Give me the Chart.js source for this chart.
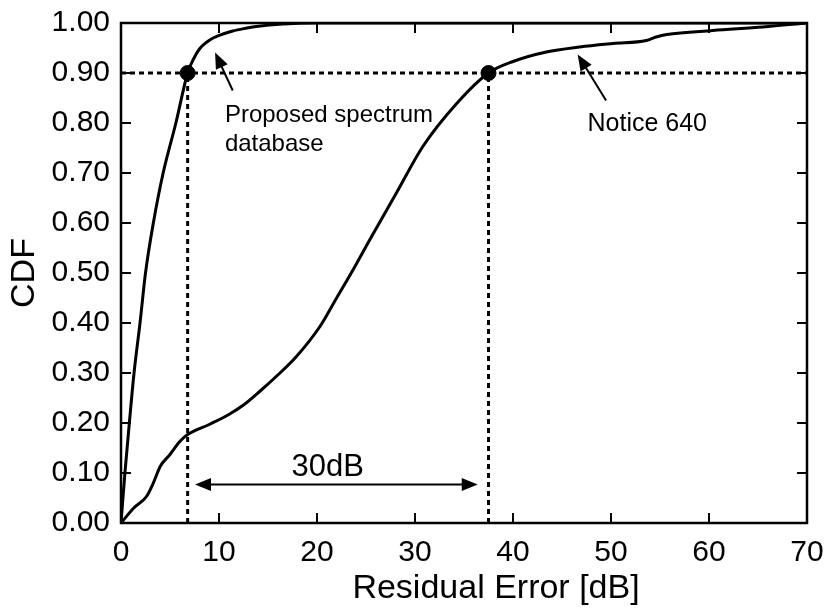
<!DOCTYPE html>
<html>
<head>
<meta charset="utf-8">
<script src="https://cdn.jsdelivr.net/npm/chart.js@4/dist/chart.umd.min.js"></script>
<style>
  html, body { margin: 0; padding: 0; background: #fff; }
  #wrap { width: 828px; height: 608px; }
</style>
</head>
<body>
<div id="wrap"><canvas id="cdf"></canvas></div>
<script>
// CDF of residual error
const proposedX = [0, 0.4, 0.85, 1.33, 1.94, 2.5, 3.3, 4.3, 5.6, 6.8, 7.4, 8.0, 8.7, 9.4, 10.4, 11.4, 12.6, 13.8, 16.5, 20, 70];
const proposedY = [0, 0.1, 0.2, 0.3, 0.4, 0.5, 0.6, 0.7, 0.8, 0.9, 0.928, 0.948, 0.961, 0.970, 0.978, 0.984, 0.989, 0.993, 0.998, 1, 1];

const noticeX = [0, 1.3, 2.6, 3.3, 4.0, 5.0, 6.0, 6.8, 9.0, 11.0, 12.5, 14.2, 16.0, 17.9, 20.3, 22.0, 23.7,
  25.4, 28.1, 30.8, 34.3, 37.5, 40.0, 43.4, 46.8, 50.2, 53.6, 54.6, 55.7, 60.4, 65.5, 70];
const noticeY = [0, 0.03, 0.053, 0.08, 0.113, 0.137, 0.163, 0.177, 0.197, 0.217, 0.236, 0.264, 0.296, 0.333, 0.393,
  0.45, 0.507, 0.567, 0.66, 0.753, 0.84, 0.9, 0.923, 0.942, 0.952, 0.959, 0.965, 0.972, 0.977, 0.985, 0.992, 1.0];

const xTicks = [0, 10, 20, 30, 40, 50, 60, 70];
const yTicks = [0, 0.1, 0.2, 0.3, 0.4, 0.5, 0.6, 0.7, 0.8, 0.9, 1.0];

// the two 90% points and the level line
const level = 0.9;
const markX = [6.8, 37.5];

// annotations, in data units
const labelProposed = ["Proposed spectrum", "database"];
const labelProposedAt = [10.6, 0.803, 0.745];
const arrowProposed = [11.4, 0.865, 9.6, 0.941];
const labelNotice = "Notice 640";
const labelNoticeAt = [47.6, 0.785];
const arrowNotice = [49.5, 0.845, 46.6, 0.937];
const gapLabel = "30dB";
const gapLabelAt = [21.1, 0.095];
const gapArrow = [7.55, 36.4, 0.077];
const xTitle = "Residual Error [dB]";

const FONT = '"Liberation Sans", Arial, Helvetica, sans-serif';

function toPoints(xs, ys) {
  return xs.map((x, i) => ({ x: x, y: ys[i] }));
}

function arrowHead(ctx, x0, y0, x1, y1) {
  const a = Math.atan2(y1 - y0, x1 - x0);
  const len = 16, half = 6.5;
  ctx.beginPath();
  ctx.moveTo(x1, y1);
  ctx.lineTo(x1 - len * Math.cos(a) + half * Math.sin(a), y1 - len * Math.sin(a) - half * Math.cos(a));
  ctx.lineTo(x1 - len * Math.cos(a) - half * Math.sin(a), y1 - len * Math.sin(a) + half * Math.cos(a));
  ctx.closePath();
  ctx.fill();
}

function arrowLine(ctx, x0, y0, x1, y1) {
  const a = Math.atan2(y1 - y0, x1 - x0);
  ctx.beginPath();
  ctx.moveTo(x0, y0);
  ctx.lineTo(x1 - 10 * Math.cos(a), y1 - 10 * Math.sin(a));
  ctx.stroke();
  arrowHead(ctx, x0, y0, x1, y1);
}

// frame, inward ticks on all sides, arrows and labels
const decorations = {
  id: 'decorations',
  afterDraw(chart) {
    const ctx = chart.ctx;
    const a = chart.chartArea;
    const xs = chart.scales.x, ys = chart.scales.y;
    ctx.save();
    ctx.strokeStyle = '#000';
    ctx.fillStyle = '#000';
    ctx.lineWidth = 2.5;
    ctx.setLineDash([]);
    ctx.strokeRect(a.left, a.top, a.right - a.left, a.bottom - a.top);

    ctx.lineWidth = 2;
    ctx.beginPath();
    xTicks.forEach(v => {
      const px = Math.round(xs.getPixelForValue(v));
      ctx.moveTo(px, a.bottom); ctx.lineTo(px, a.bottom - 10);
      ctx.moveTo(px, a.top); ctx.lineTo(px, a.top + 10);
    });
    yTicks.forEach(v => {
      const py = Math.round(ys.getPixelForValue(v));
      ctx.moveTo(a.left, py); ctx.lineTo(a.left + 10, py);
      ctx.moveTo(a.right, py); ctx.lineTo(a.right - 10, py);
    });
    ctx.stroke();

    // arrows
    ctx.lineWidth = 2;
    arrowLine(ctx, xs.getPixelForValue(arrowProposed[0]), ys.getPixelForValue(arrowProposed[1]),
      xs.getPixelForValue(arrowProposed[2]), ys.getPixelForValue(arrowProposed[3]));
    arrowLine(ctx, xs.getPixelForValue(arrowNotice[0]), ys.getPixelForValue(arrowNotice[1]),
      xs.getPixelForValue(arrowNotice[2]), ys.getPixelForValue(arrowNotice[3]));

    const gy = ys.getPixelForValue(gapArrow[2]);
    const gx0 = xs.getPixelForValue(gapArrow[0]), gx1 = xs.getPixelForValue(gapArrow[1]);
    ctx.beginPath();
    ctx.moveTo(gx0 + 10, gy); ctx.lineTo(gx1 - 10, gy);
    ctx.stroke();
    arrowHead(ctx, gx1, gy, gx0, gy);
    arrowHead(ctx, gx0, gy, gx1, gy);

    // labels
    ctx.textBaseline = 'alphabetic';
    ctx.textAlign = 'left';
    ctx.font = '24px ' + FONT;
    ctx.fillText(labelProposed[0], xs.getPixelForValue(labelProposedAt[0]), ys.getPixelForValue(labelProposedAt[1]));
    ctx.fillText(labelProposed[1], xs.getPixelForValue(labelProposedAt[0]), ys.getPixelForValue(labelProposedAt[2]));
    ctx.font = '25px ' + FONT;
    ctx.fillText(labelNotice, xs.getPixelForValue(labelNoticeAt[0]), ys.getPixelForValue(labelNoticeAt[1]));
    ctx.textAlign = 'center';
    ctx.font = '31px ' + FONT;
    ctx.fillText(gapLabel, xs.getPixelForValue(gapLabelAt[0]), ys.getPixelForValue(gapLabelAt[1]));

    // x axis title sits a little right of centre in the original
    ctx.font = '34px ' + FONT;
    ctx.fillText(xTitle, (a.left + a.right) / 2 + 32, a.bottom + 75);
    ctx.restore();
  }
};

Chart.defaults.font.family = FONT;
Chart.defaults.color = '#000';

const lineStyle = { showLine: true, borderColor: '#000', borderWidth: 3, pointRadius: 0 };
const dashStyle = { showLine: true, borderColor: '#000', borderWidth: 3, borderDash: [5, 4], pointRadius: 0 };

new Chart(document.getElementById('cdf'), {
  type: 'scatter',
  data: {
    datasets: [
      Object.assign({ label: 'Proposed spectrum database', data: toPoints(proposedX, proposedY),
        cubicInterpolationMode: 'monotone' }, lineStyle),
      Object.assign({ label: 'Notice 640', data: toPoints(noticeX, noticeY),
        cubicInterpolationMode: 'monotone' }, lineStyle),
      Object.assign({ label: 'level', data: [{ x: 0, y: level }, { x: 70, y: level }] }, dashStyle),
      Object.assign({ label: 'v1', data: [{ x: markX[0], y: 0 }, { x: markX[0], y: level }] }, dashStyle),
      Object.assign({ label: 'v2', data: [{ x: markX[1], y: 0 }, { x: markX[1], y: level }] }, dashStyle),
      {
        label: 'marks',
        data: markX.map(x => ({ x: x, y: level })),
        showLine: false,
        pointRadius: 7.5,
        pointBackgroundColor: '#000',
        pointBorderColor: '#000'
      }
    ]
  },
  options: {
    responsive: true,
    maintainAspectRatio: false,
    animation: false,
    layout: { padding: { left: 4, right: 21, top: 23, bottom: 0 } },
    plugins: {
      legend: { display: false },
      tooltip: { enabled: false }
    },
    scales: {
      x: {
        type: 'linear',
        min: 0,
        max: 70,
        grid: { display: false, drawTicks: false },
        border: { display: false },
        ticks: {
          stepSize: 10,
          padding: 12,
          font: { size: 30 },
          maxRotation: 0
        },
        afterFit(scale) {
          scale.height = 85;
          scale.paddingLeft = 0; scale.paddingRight = 0;
        }
      },
      y: {
        min: 0,
        max: 1,
        grid: { display: false, drawTicks: false },
        border: { display: false },
        ticks: {
          stepSize: 0.1,
          padding: 11,
          font: { size: 30 },
          callback: (v) => v.toFixed(2)
        },
        title: {
          display: true,
          text: 'CDF',
          font: { size: 34 },
          padding: { top: 0, bottom: 2 }
        },
        afterFit(scale) {
          scale.width = 117;
          scale.paddingTop = 0; scale.paddingBottom = 0;
        }
      }
    }
  },
  plugins: [decorations]
});
</script>
</body>
</html>
